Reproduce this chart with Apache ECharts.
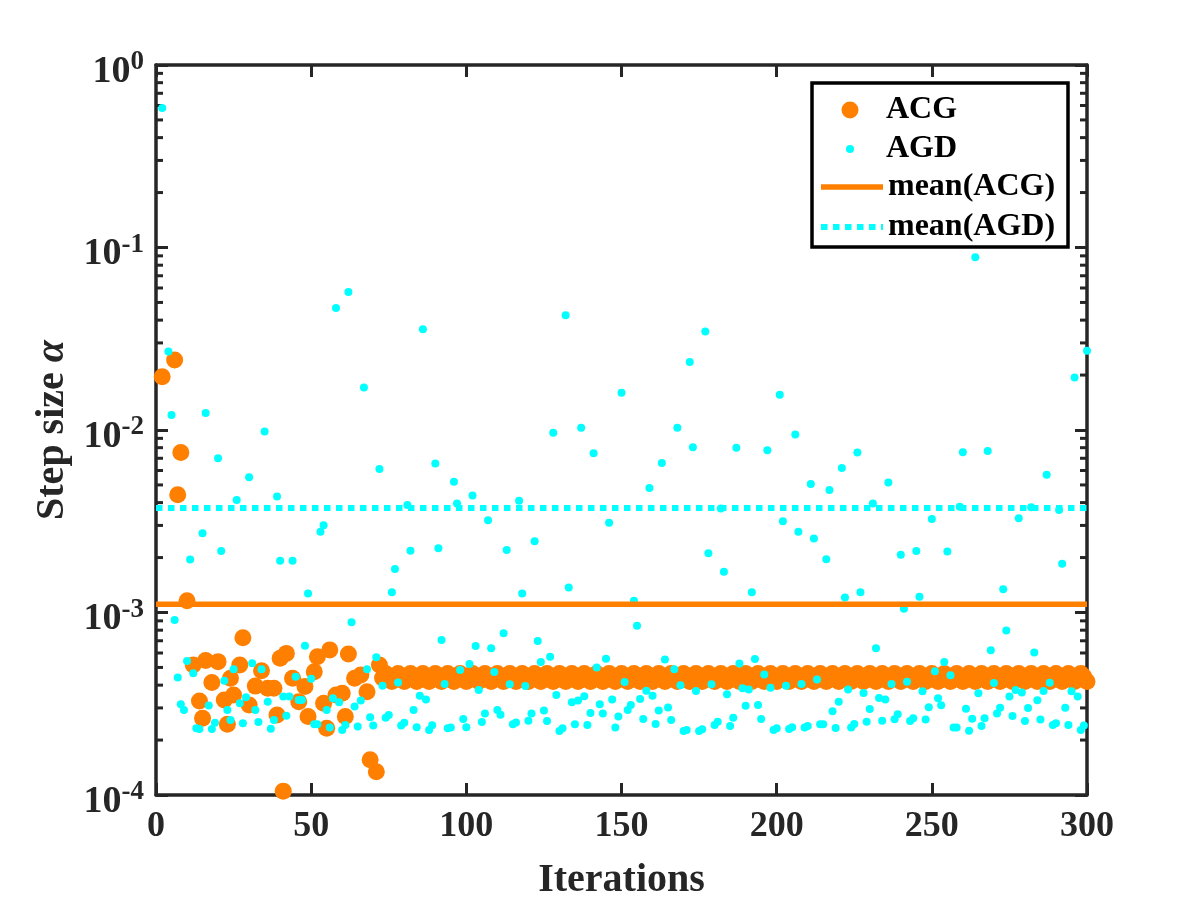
<!DOCTYPE html>
<html>
<head>
<meta charset="utf-8">
<title>Step size</title>
<script src="https://cdn.jsdelivr.net/npm/echarts@6.0.0/dist/echarts.min.js"></script>
<style>
  html, body { margin: 0; padding: 0; background: #fff; }
  #box { width: 1200px; height: 900px; }
</style>
</head>
<body>
<div id="box"></div>
<script>
// ACG step size, iterations 1..72 (null = no marker visible)
const acgEarly = [
  null, 1.96e-2, null, null, null, 2.42e-2, 4.42e-3, 7.52e-3, null, 1.16e-3,
  null, 5.15e-4, null, 3.27e-4, 2.63e-4, 5.45e-4, null, 4.13e-4, null, 5.38e-4,
  null, 3.32e-4, 2.44e-4, 4.36e-4, 3.53e-4, null, 5.15e-4, 7.28e-4, null, 3.11e-4,
  null, 3.95e-4, null, 4.80e-4, null, 3.84e-4, null, 3.84e-4, 2.74e-4, 5.61e-4,
  1.05e-4, 5.97e-4, null, 4.36e-4, null, 3.24e-4, null, 3.93e-4, 2.69e-4, null,
  4.74e-4, 5.73e-4, null, 3.18e-4, 2.32e-4, 6.24e-4, null, 3.53e-4, null, 3.61e-4,
  2.69e-4, 5.93e-4, null, 4.36e-4, null, 4.55e-4, null, 3.68e-4, 1.56e-4, null,
  1.34e-4, 5.15e-4
]

// ACG step size, iterations 73..300
const acgLate = [
  4.38e-4, 4.63e-4, 4.45e-4, 4.19e-4, 4.38e-4, 4.63e-4, 4.45e-4, 4.19e-4, 4.38e-4, 4.63e-4, 4.45e-4, 4.19e-4,
  4.38e-4, 4.63e-4, 4.45e-4, 4.19e-4, 4.38e-4, 4.63e-4, 4.45e-4, 4.19e-4, 4.38e-4, 4.63e-4, 4.45e-4, 4.19e-4,
  4.38e-4, 4.63e-4, 4.45e-4, 4.19e-4, 4.38e-4, 4.63e-4, 4.45e-4, 4.19e-4, 4.38e-4, 4.63e-4, 4.45e-4, 4.19e-4,
  4.38e-4, 4.63e-4, 4.45e-4, 4.19e-4, 4.38e-4, 4.63e-4, 4.45e-4, 4.19e-4, 4.38e-4, 4.63e-4, 4.45e-4, 4.19e-4,
  4.38e-4, 4.63e-4, 4.45e-4, 4.19e-4, 4.38e-4, 4.63e-4, 4.45e-4, 4.19e-4, 4.38e-4, 4.63e-4, 4.45e-4, 4.19e-4,
  4.38e-4, 4.63e-4, 4.45e-4, 4.19e-4, 4.38e-4, 4.63e-4, 4.45e-4, 4.19e-4, 4.38e-4, 4.63e-4, 4.45e-4, 4.19e-4,
  4.38e-4, 4.63e-4, 4.45e-4, 4.19e-4, 4.38e-4, 4.63e-4, 4.45e-4, 4.19e-4, 4.38e-4, 4.63e-4, 4.45e-4, 4.19e-4,
  4.38e-4, 4.63e-4, 4.45e-4, 4.19e-4, 4.38e-4, 4.63e-4, 4.45e-4, 4.19e-4, 4.38e-4, 4.63e-4, 4.45e-4, 4.19e-4,
  4.38e-4, 4.63e-4, 4.45e-4, 4.19e-4, 4.38e-4, 4.63e-4, 4.45e-4, 4.19e-4, 4.38e-4, 4.63e-4, 4.45e-4, 4.19e-4,
  4.38e-4, 4.63e-4, 4.45e-4, 4.19e-4, 4.38e-4, 4.63e-4, 4.45e-4, 4.19e-4, 4.38e-4, 4.63e-4, 4.45e-4, 4.19e-4,
  4.38e-4, 4.63e-4, 4.45e-4, 4.19e-4, 4.38e-4, 4.63e-4, 4.45e-4, 4.19e-4, 4.38e-4, 4.63e-4, 4.45e-4, 4.19e-4,
  4.38e-4, 4.63e-4, 4.45e-4, 4.19e-4, 4.38e-4, 4.63e-4, 4.45e-4, 4.19e-4, 4.38e-4, 4.63e-4, 4.45e-4, 4.19e-4,
  4.38e-4, 4.63e-4, 4.45e-4, 4.19e-4, 4.38e-4, 4.63e-4, 4.45e-4, 4.19e-4, 4.38e-4, 4.63e-4, 4.45e-4, 4.19e-4,
  4.38e-4, 4.63e-4, 4.45e-4, 4.19e-4, 4.38e-4, 4.63e-4, 4.45e-4, 4.19e-4, 4.38e-4, 4.63e-4, 4.45e-4, 4.19e-4,
  4.38e-4, 4.63e-4, 4.45e-4, 4.19e-4, 4.38e-4, 4.63e-4, 4.45e-4, 4.19e-4, 4.38e-4, 4.63e-4, 4.45e-4, 4.19e-4,
  4.38e-4, 4.63e-4, 4.45e-4, 4.19e-4, 4.38e-4, 4.63e-4, 4.45e-4, 4.19e-4, 4.38e-4, 4.63e-4, 4.45e-4, 4.19e-4,
  4.38e-4, 4.63e-4, 4.45e-4, 4.19e-4, 4.38e-4, 4.63e-4, 4.45e-4, 4.19e-4, 4.38e-4, 4.63e-4, 4.45e-4, 4.19e-4,
  4.38e-4, 4.63e-4, 4.45e-4, 4.19e-4, 4.38e-4, 4.63e-4, 4.45e-4, 4.19e-4, 4.38e-4, 4.63e-4, 4.45e-4, 4.19e-4,
  4.38e-4, 4.63e-4, 4.45e-4, 4.19e-4, 4.38e-4, 4.63e-4, 4.45e-4, 4.19e-4, 4.38e-4, 4.63e-4, 4.45e-4, 4.19e-4
]

// AGD step size, iterations 1..300
const agd = [
  null, 5.81e-1, null, 2.69e-2, 1.21e-2, 9.1e-4, 4.40e-4, 3.14e-4, 2.92e-4, 5.42e-4,
  1.95e-3, 4.65e-4, 2.32e-4, 2.30e-4, 2.72e-3, 1.24e-2, 3.09e-4, 2.30e-4, 2.49e-4, 7.0e-3,
  2.17e-3, 4.23e-4, 2.92e-4, 2.58e-4, 4.89e-4, 4.13e-3, 3.18e-4, 2.47e-4, 3.43e-4, 5.51e-3,
  5.27e-4, 2.92e-4, 2.51e-4, 4.89e-4, 9.8e-3, 3.24e-4, 2.31e-4, 2.58e-4, 4.32e-3, 1.92e-3,
  3.46e-4, 2.72e-4, 3.46e-4, 1.92e-3, 4.45e-4, 3.32e-4, 3.32e-4, 6.58e-4, 1.27e-3, 4.33e-4,
  2.44e-4, 2.44e-4, 2.77e-3, 3.01e-3, 2.92e-4, 2.34e-4, 3.39e-4, 4.66e-2, 3.22e-4, 2.27e-4,
  2.42e-4, 5.70e-2, 8.83e-4, 3.05e-4, 2.37e-4, 3.29e-4, 1.71e-2, 4.89e-4, 2.67e-4, 2.40e-4,
  5.68e-4, 6.11e-3, 3.97e-4, 2.65e-4, 2.74e-4, 1.29e-3, 1.73e-3, 4.13e-4, 2.40e-4, 2.49e-4,
  3.88e-3, 2.18e-3, 2.92e-4, 2.35e-4, 3.50e-4, 3.56e-2, 3.34e-4, 2.27e-4, 2.41e-4, 6.56e-3,
  2.25e-3, 7.06e-4, 4.06e-4, 2.32e-4, 2.34e-4, 5.21e-3, 3.96e-3, 4.84e-4, 2.61e-4, 2.35e-4,
  5.22e-4, 4.37e-3, 6.55e-4, 3.76e-4, 2.51e-4, 2.80e-4, 3.20e-3, 6.37e-4, 4.72e-4, 2.92e-4,
  2.75e-4, 7.69e-4, 2.20e-3, 4.04e-4, 2.44e-4, 2.50e-4, 4.09e-3, 1.27e-3, 3.95e-4, 2.55e-4,
  2.80e-4, 2.46e-3, 6.98e-4, 5.36e-4, 2.90e-4, 2.54e-4, 5.73e-4, 9.66e-3, 3.53e-4, 2.24e-4,
  2.32e-4, 4.25e-2, 1.37e-3, 3.22e-4, 2.44e-4, 3.29e-4, 1.03e-2, 3.48e-4, 2.42e-4, 2.81e-4,
  7.45e-3, 4.99e-4, 3.14e-4, 2.80e-4, 5.58e-4, 3.10e-3, 3.34e-4, 2.34e-4, 2.69e-4, 1.60e-2,
  4.16e-4, 2.92e-4, 3.11e-4, 1.16e-3, 8.47e-4, 3.36e-4, 2.61e-4, 3.73e-4, 4.81e-3, 3.50e-4,
  2.45e-4, 2.90e-4, 6.59e-3, 5.53e-4, 3.02e-4, 2.58e-4, 4.89e-4, 1.03e-2, 3.99e-4, 2.24e-4,
  2.27e-4, 2.36e-2, 8.04e-3, 3.72e-4, 2.24e-4, 2.29e-4, 3.47e-2, 2.11e-3, 4.04e-4, 2.42e-4,
  2.52e-4, 3.72e-3, 1.67e-3, 3.57e-4, 2.39e-4, 2.65e-4, 8.0e-3, 5.26e-4, 3.84e-4, 3.08e-4,
  3.79e-4, 1.29e-3, 5.56e-4, 3.11e-4, 2.61e-4, 4.58e-4, 7.74e-3, 3.87e-4, 2.27e-4, 2.32e-4,
  1.56e-2, 3.16e-3, 3.97e-4, 2.30e-4, 2.35e-4, 9.46e-3, 2.77e-3, 4.06e-4, 2.34e-4, 2.39e-4,
  5.06e-3, 2.54e-3, 4.29e-4, 2.44e-4, 2.44e-4, 1.96e-3, 4.69e-3, 2.88e-4, 2.33e-4, 3.24e-4,
  6.19e-3, 1.21e-3, 3.78e-4, 2.34e-4, 2.45e-4, 7.52e-3, 1.29e-3, 3.62e-4, 2.52e-4, 2.96e-4,
  3.96e-3, 6.37e-4, 3.40e-4, 2.55e-4, 3.34e-4, 5.16e-3, 4.06e-4, 2.60e-4, 2.77e-4, 2.07e-3,
  1.05e-3, 4.18e-4, 2.54e-4, 2.63e-4, 2.17e-3, 1.22e-3, 3.70e-4, 2.59e-4, 3.03e-4, 3.25e-3,
  4.76e-4, 3.39e-4, 3.10e-4, 5.36e-4, 2.16e-3, 4.53e-4, 2.34e-4, 2.34e-4, 3.80e-3, 7.55e-3,
  2.97e-4, 2.25e-4, 2.62e-4, 8.83e-2, 3.61e-4, 2.39e-4, 2.63e-4, 7.67e-3, 6.21e-4, 4.11e-4,
  2.80e-4, 3.01e-4, 1.34e-3, 7.98e-4, 3.46e-4, 2.71e-4, 3.76e-4, 3.28e-3, 3.64e-4, 2.54e-4,
  3.00e-4, 3.77e-3, 6.03e-4, 3.30e-4, 2.59e-4, 3.72e-4, 5.68e-3, 4.12e-4, 2.42e-4, 2.47e-4,
  3.65e-3, 1.85e-3, 3.01e-4, 2.42e-4, 3.70e-4, 1.94e-2, 3.46e-4, 2.27e-4, 2.40e-4, 2.72e-2
]

const meanACG = [1.11e-3]
const meanAGD = [3.74e-3]

const xRange = [0, 300]
const yRange = [1e-4, 1]
const minorTicks = [
  2e-4, 3e-4, 4e-4, 5e-4, 6e-4, 7e-4, 8e-4, 9e-4,
  2e-3, 3e-3, 4e-3, 5e-3, 6e-3, 7e-3, 8e-3, 9e-3,
  2e-2, 3e-2, 4e-2, 5e-2, 6e-2, 7e-2, 8e-2, 9e-2,
  2e-1, 3e-1, 4e-1, 5e-1, 6e-1, 7e-1, 8e-1, 9e-1
]

const FONT = "'Liberation Serif', 'DejaVu Serif', serif"
const AXIS = '#262626'
const ORANGE = '#ff8000'
const CYAN = '#00ffff'

const toPoints = (arr, start) => arr
  .map((v, i) => [i + start, v])
  .filter(p => p[1] != null)

const acgData = toPoints(acgEarly, 1).concat(toPoints(acgLate, 73))
const agdData = toPoints(agd, 1)

const chart = echarts.init(document.getElementById('box'), null, { renderer: 'canvas' })

const legendText = { fontFamily: FONT, fontWeight: 'bold', fontSize: 32, color: '#000' }

chart.setOption({
  animation: false,
  backgroundColor: '#fff',
  grid: { left: 156, right: 113, top: 65, bottom: 105, outerBoundsMode: 'none' },
  xAxis: [
    {
      type: 'value', min: xRange[0], max: xRange[1], interval: 50, position: 'bottom',
      name: 'Iterations', nameLocation: 'middle', nameGap: 66,
      nameTextStyle: { fontFamily: FONT, fontWeight: 'bold', fontSize: 40, color: AXIS },
      axisLine: { show: true, onZero: false, lineStyle: { color: AXIS, width: 3.5 } },
      axisTick: { show: true, inside: true, length: 12, lineStyle: { color: AXIS, width: 3 } },
      axisLabel: { fontFamily: FONT, fontWeight: 'bold', fontSize: 36, color: AXIS, margin: 14 },
      splitLine: { show: false }
    },
    {
      type: 'value', min: xRange[0], max: xRange[1], interval: 50, position: 'top',
      axisLine: { show: true, onZero: false, lineStyle: { color: AXIS, width: 3.5 } },
      axisTick: { show: true, inside: true, length: 12, lineStyle: { color: AXIS, width: 3 } },
      axisLabel: { show: false },
      splitLine: { show: false }
    }
  ],
  yAxis: [
    {
      type: 'log', logBase: 10, min: yRange[0], max: yRange[1], position: 'left',
      name: '{a|Step size }{i|α}', nameLocation: 'middle', nameGap: 72,
      nameTextStyle: {
        rich: {
          a: { fontFamily: FONT, fontWeight: 'bold', fontSize: 40, color: AXIS },
          i: { fontFamily: FONT, fontWeight: 'bold', fontStyle: 'italic', fontSize: 40, color: AXIS }
        }
      },
      axisLine: { show: true, onZero: false, lineStyle: { color: AXIS, width: 3.5 } },
      axisTick: { show: true, inside: true, length: 12, lineStyle: { color: AXIS, width: 3 } },
      axisLabel: {
        margin: 12,
        formatter: v => '{b|10}{s|' + Math.round(Math.log10(v)) + '}',
        rich: {
          b: { fontFamily: FONT, fontWeight: 'bold', fontSize: 38, lineHeight: 38, color: AXIS, padding: [14, 0, 0, 0] },
          s: { fontFamily: FONT, fontWeight: 'bold', fontSize: 27, lineHeight: 27, color: AXIS, verticalAlign: 'top', padding: [3, 0, 0, 0] }
        }
      },
      splitLine: { show: false }
    },
    {
      type: 'log', logBase: 10, min: yRange[0], max: yRange[1], position: 'right',
      axisLine: { show: true, onZero: false, lineStyle: { color: AXIS, width: 3.5 } },
      axisTick: { show: true, inside: true, length: 12, lineStyle: { color: AXIS, width: 3 } },
      axisLabel: { show: false },
      splitLine: { show: false }
    }
  ],
  legend: [
    {
      data: ['ACG'], orient: 'vertical', left: 841.5, top: 94, padding: 0,
      itemWidth: 62, itemHeight: 17, selectedMode: false, textStyle: legendText, z: 10
    },
    {
      data: ['AGD'], orient: 'vertical', left: 846, top: 133, padding: 0,
      itemWidth: 62, itemHeight: 8, selectedMode: false, textStyle: legendText, z: 10
    },
    {
      data: [
        { name: 'mean(ACG)', lineStyle: { width: 5.5 } },
        { name: 'mean(AGD)', lineStyle: { width: 6, type: [6.5, 5.5], cap: 'butt' } }
      ],
      orient: 'vertical', left: 818, top: 171, padding: 0,
      itemWidth: 62, itemHeight: 20, itemGap: 8, selectedMode: false,
      itemStyle: { opacity: 0, borderWidth: 0 },
      textStyle: legendText, z: 10
    }
  ],
  graphic: [
    {
      type: 'rect', z: 9,
      shape: { x: 812, y: 83, width: 256, height: 164 },
      style: { fill: '#fff', stroke: '#000', lineWidth: 3.5 }
    }
  ],
  series: [
    {
      name: 'ACG', type: 'scatter', xAxisIndex: 0, yAxisIndex: 0,
      symbol: 'circle', symbolSize: 17, data: acgData,
      itemStyle: { color: ORANGE, opacity: 1 }, z: 2
    },
    {
      name: 'AGD', type: 'scatter', xAxisIndex: 0, yAxisIndex: 0,
      symbol: 'circle', symbolSize: 8, data: agdData,
      itemStyle: { color: CYAN, opacity: 1 }, z: 3
    },
    {
      name: 'mean(ACG)', type: 'line', xAxisIndex: 0, yAxisIndex: 0,
      symbol: 'none', data: [[xRange[0], meanACG[0]], [xRange[1], meanACG[0]]],
      lineStyle: { color: ORANGE, width: 5.5 }, itemStyle: { color: ORANGE }, z: 4
    },
    {
      name: 'mean(AGD)', type: 'line', xAxisIndex: 0, yAxisIndex: 0,
      symbol: 'none', data: [[xRange[0], meanAGD[0]], [xRange[1], meanAGD[0]]],
      lineStyle: { color: CYAN, width: 6, type: [6.5, 5.5], cap: 'butt' }, itemStyle: { color: CYAN }, z: 4
    },
    {
      // minor log ticks on left and right edges
      type: 'custom', xAxisIndex: 0, yAxisIndex: 0, silent: true, z: 1,
      data: minorTicks.map(v => [xRange[0], v]),
      renderItem: (params, api) => {
        const l = api.coord([xRange[0], api.value(1)])
        const r = api.coord([xRange[1], api.value(1)])
        const style = { stroke: AXIS, lineWidth: 3 }
        return {
          type: 'group',
          children: [
            { type: 'line', shape: { x1: l[0], y1: l[1], x2: l[0] + 7, y2: l[1] }, style },
            { type: 'line', shape: { x1: r[0], y1: r[1], x2: r[0] - 7, y2: r[1] }, style }
          ]
        }
      }
    }
  ]
})
</script>
</body>
</html>
